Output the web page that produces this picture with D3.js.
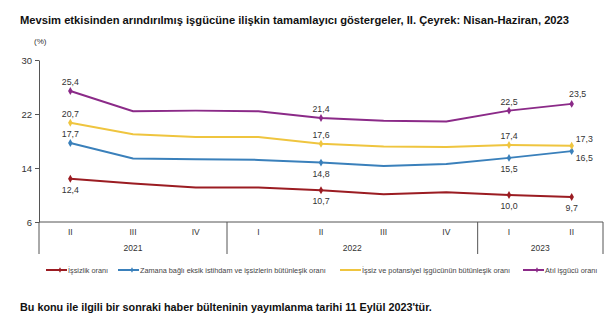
<!DOCTYPE html>
<html><head><meta charset="utf-8">
<script src="https://cdn.jsdelivr.net/npm/d3@7"></script>
<style>
html,body{margin:0;padding:0;background:#fff;}
svg{display:block;font-family:"Liberation Sans",Arial,sans-serif;}
</style></head>
<body><svg id="c" width="616" height="332"></svg>
<script>
const quarters = ["II","III","IV","I","II","III","IV","I","II"];
const years = [{label:"2021",from:0,to:3},{label:"2022",from:3,to:7},{label:"2023",from:7,to:9}];
const unemployment = [12.4,11.7,11.1,11.1,10.7,10.1,10.4,10.0,9.7];
const timeRelated = [17.7,15.4,15.3,15.2,14.8,14.3,14.6,15.5,16.5];
const potential = [20.7,19.0,18.6,18.6,17.6,17.2,17.1,17.4,17.3];
const slack = [25.4,22.4,22.5,22.4,21.4,21.0,20.9,22.5,23.5];
const yTicks = [6,14,22,30];
const seriesNames = ["İşsizlik oranı","Zamana bağlı eksik istihdam ve işsizlerin bütünleşik oranı","İşsiz ve potansiyel işgücünün bütünleşik oranı","Atıl işgücü oranı"];
const colors = ["#9b1c22","#3a80bb","#efc53f","#8b2a88"];
// which points get labels, and placement: a=above, b=below, r=right, rb=right-below
const labelPos = [
  {0:"b",4:"b",7:"b",8:"b"},
  {0:"a",4:"b",7:"b",8:"rb"},
  {0:"a",4:"a",7:"a",8:"r"},
  {0:"a",4:"a",7:"a",8:"ar"}
];
const series = [unemployment,timeRelated,potential,slack];

const svg = d3.select("#c");
const L=39,R=603,T=60,B=222;
const x = d3.scaleBand().domain(d3.range(quarters.length)).range([L,R]);
const y = d3.scaleLinear().domain([6,30]).range([B,T]);
const fmt = v => d3.format(".1f")(v).replace(".",",");

svg.append("text").attr("x",20).attr("y",24).attr("font-size",11.2).attr("font-weight","bold").attr("fill","#111")
  .text("Mevsim etkisinden arındırılmış işgücüne ilişkin tamamlayıcı göstergeler, II. Çeyrek: Nisan-Haziran, 2023");
svg.append("text").attr("x",34).attr("y",44).attr("font-size",8).attr("fill","#333").text("(%)");

// y axis
const ya = svg.append("g").attr("transform",`translate(${L},0)`).call(d3.axisLeft(y).tickValues(yTicks).tickSize(4).tickSizeOuter(0));
ya.select(".domain").attr("stroke","#555");
ya.selectAll(".tick line").attr("stroke","#555");
ya.selectAll(".tick text").attr("font-size",9.5).attr("fill","#333").attr("font-family","Liberation Sans,Arial,sans-serif");
svg.append("line").attr("x1",L).attr("x2",L).attr("y1",B).attr("y2",254).attr("stroke","#555");

// x axis
svg.append("line").attr("x1",L).attr("x2",R).attr("y1",B).attr("y2",B).attr("stroke","#555");
const xa = svg.append("g");
xa.selectAll("text.q").data(quarters).join("text").attr("class","q")
  .attr("x",(d,i)=>x(i)+x.bandwidth()/2).attr("y",235).attr("text-anchor","middle")
  .attr("font-size",8.5).attr("fill","#333").text(d=>d);
xa.selectAll("text.y").data(years).join("text").attr("class","y")
  .attr("x",d=>(x(d.from)+x(d.to-1)+x.bandwidth())/2).attr("y",251).attr("text-anchor","middle")
  .attr("font-size",8.5).attr("fill","#333").text(d=>d.label);
xa.selectAll("line.div").data(years.slice(1).map(d=>d.from).concat([quarters.length])).join("line").attr("class","div")
  .attr("x1",d=>d<quarters.length?x(d):R).attr("x2",d=>d<quarters.length?x(d):R)
  .attr("y1",B).attr("y2",254).attr("stroke","#555");

// lines
const line = d3.line().x((d,i)=>x(i)+x.bandwidth()/2).y(d=>y(d));
const diamond = d3.symbol().type(d3.symbolDiamond).size(18);
series.forEach((s,k)=>{
  svg.append("path").datum(s).attr("d",line).attr("fill","none").attr("stroke",colors[k]).attr("stroke-width",2);
  const lp = labelPos[k];
  Object.keys(lp).forEach(key=>{
    const i=+key, cx=x(i)+x.bandwidth()/2, cy=y(s[i]);
    svg.append("path").attr("d",diamond).attr("transform",`translate(${cx},${cy})`).attr("fill",colors[k]);
    let tx=cx, ty=cy, anchor="middle";
    const p=lp[key];
    if(p==="a"){ty=cy-6;}
    else if(p==="b"){ty=cy+14;}
    else if(p==="r"){tx=cx+4;ty=cy-4;anchor="start";}
    else if(p==="rb"){tx=cx+4;ty=cy+10;anchor="start";}
    else if(p==="ar"){tx=cx+6;ty=cy-7;}
    svg.append("text").attr("x",tx).attr("y",ty).attr("text-anchor",anchor).attr("font-size",8.8).attr("fill","#333").text(fmt(s[i]));
  });
});

// legend
const legX = [46,118,340,523];
seriesNames.forEach((n,k)=>{
  const g = svg.append("g").attr("transform",`translate(${legX[k]},270)`);
  g.append("line").attr("x1",0).attr("x2",21).attr("y1",0).attr("y2",0).attr("stroke",colors[k]).attr("stroke-width",2);
  if(k!==2) g.append("path").attr("d",d3.symbol().type(d3.symbolDiamond).size(8)).attr("transform","translate(14,0)").attr("fill",colors[k]);
  g.append("text").attr("x",22).attr("y",2.5).attr("font-size",7.3).attr("fill","#444").text(n);
});

svg.append("text").attr("x",20).attr("y",311).attr("font-size",10.8).attr("font-weight","bold").attr("fill","#111")
  .text("Bu konu ile ilgili bir sonraki haber bülteninin yayımlanma tarihi 11 Eylül 2023'tür.");
</script></body></html>
